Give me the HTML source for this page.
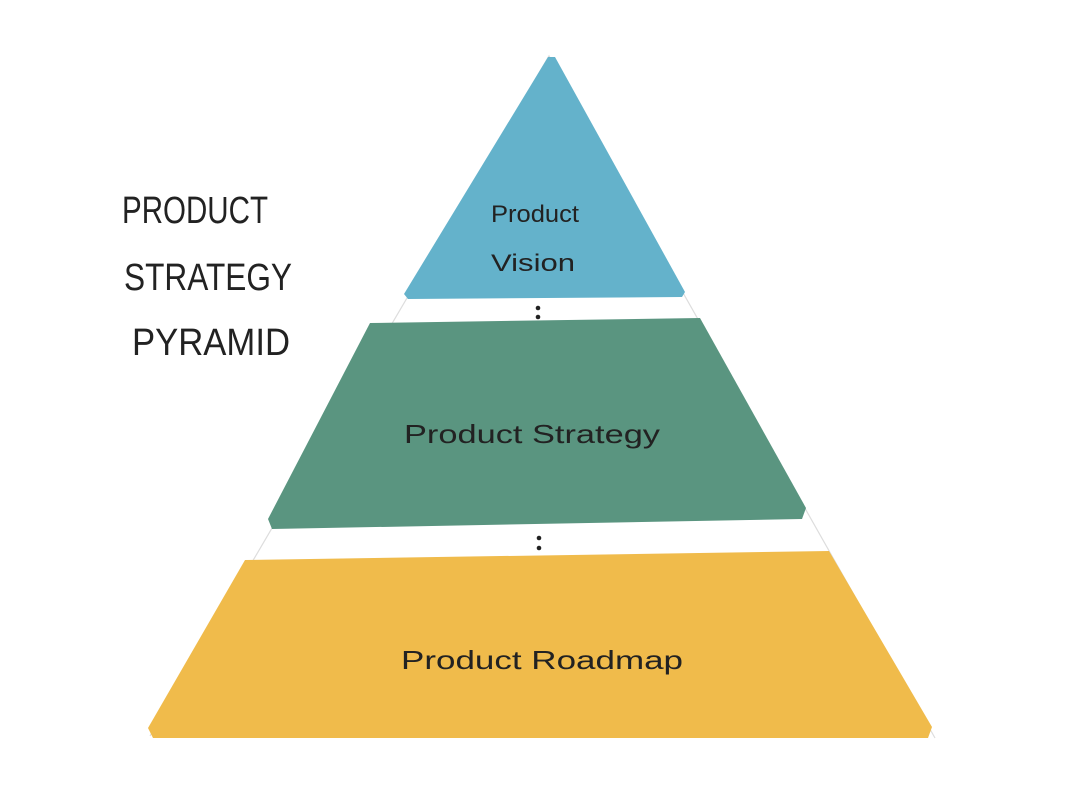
<!DOCTYPE html>
<html><head><style>
html,body{margin:0;padding:0;background:#fff;}
svg{display:block}
text{font-family:"Liberation Sans",sans-serif;fill:#222;}
</style></head><body>
<svg width="1084" height="796" viewBox="0 0 1084 796">
<polyline points="150,736 549,56 935,738" fill="none" stroke="#ddd" stroke-width="1.2"/>
<polygon points="548,57 555,57 685,292 682,297 408,299 404,294" fill="#64b2cb"/>
<polygon points="370,323 700,318 806,508 802,519 272,529 268,519" fill="#5a9580"/>
<polygon points="245,560 829,551 932,727 928,738 153,738 148,728" fill="#f0bb4b"/>
<circle cx="538" cy="308" r="2.3" fill="#222"/><circle cx="538" cy="317" r="2.3" fill="#222"/>
<circle cx="539" cy="538" r="2.3" fill="#222"/><circle cx="539" cy="548" r="2.3" fill="#222"/>
<g font-size="40" textLength="0">
<text x="122" y="223" font-size="38" textLength="146" lengthAdjust="spacingAndGlyphs">PRODUCT</text>
<text x="124" y="290" font-size="38" textLength="168" lengthAdjust="spacingAndGlyphs">STRATEGY</text>
<text x="132" y="355" font-size="38" textLength="158" lengthAdjust="spacingAndGlyphs">PYRAMID</text>
</g>
<text x="491" y="222" font-size="24" textLength="88" lengthAdjust="spacingAndGlyphs">Product</text>
<text x="491" y="271" font-size="24" textLength="84" lengthAdjust="spacingAndGlyphs">Vision</text>
<text x="404" y="443" font-size="26" textLength="256" lengthAdjust="spacingAndGlyphs">Product    Strategy</text>
<text x="401" y="669" font-size="26" textLength="282" lengthAdjust="spacingAndGlyphs">Product    Roadmap</text>
</svg>
</body></html>
